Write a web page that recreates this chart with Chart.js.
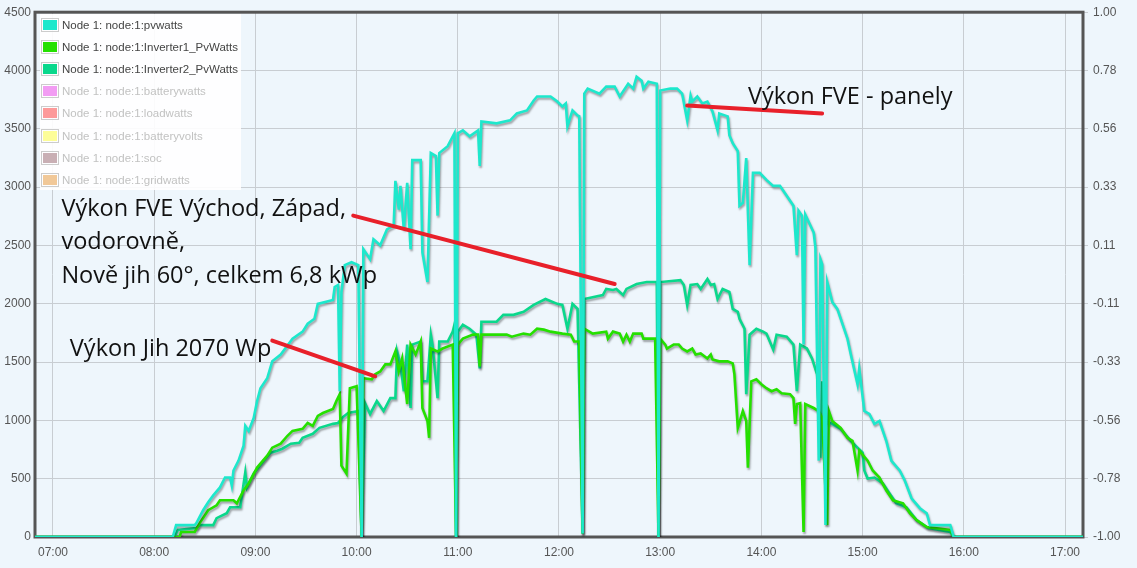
<!DOCTYPE html>
<html>
<head>
<meta charset="utf-8">
<script src="https://cdn.jsdelivr.net/npm/chart.js@4/dist/chart.umd.min.js"></script>
<style>
  body { margin: 0; background: #eef6fc; }
  #wrap { position: relative; width: 1137px; height: 568px; }
  #legend {
    position: absolute; left: 40px; top: 14px; width: 201px; height: 176px;
    background: rgba(255, 255, 255, 0.9);
    font: 11.5px "Liberation Sans", Arial, sans-serif;
  }
  .item { position: absolute; left: 1px; height: 14px; line-height: 14px; white-space: nowrap; }
  .sw {
    display: inline-block; width: 14px; height: 10px; padding: 1px;
    border: 1px solid #ccc; background-clip: content-box;
    vertical-align: top; margin-right: 3px;
  }
</style>
</head>
<body>
<div id="wrap">
  <canvas id="chart" width="1137" height="568"></canvas>
  <div id="legend"></div>
</div>
<script>
// pvwatts = sum of both inverters
const pvTimes = ["6:49","8:11","8:13","8:24","8:25","8:29","8:32","8:35","8:39","8:42","8:45","8:46","8:47","8:50","8:53","8:54","8:56","8:59",
  "9:01","9:03","9:07","9:10","9:15","9:22","9:28","9:31","9:35","9:37","9:46","9:47","9:49","9:50","9:51","9:53","9:57",
  "10:01","10:03","10:04","10:08","10:10","10:14","10:18","10:22","10:23","10:25","10:26","10:28","10:30","10:32","10:33","10:38","10:39","10:42","10:44","10:47","10:48","10:49","10:54","10:58","10:59",
  "11:00","11:03","11:07","11:12","11:13","11:14","11:23","11:31","11:35","11:41","11:45","11:47","11:55","11:59",
  "12:02","12:04","12:05","12:08","12:11","12:12","12:14","12:15","12:17","12:24","12:28","12:33","12:36","12:41","12:44","12:46","12:49","12:50","12:53","12:58","12:59",
  "13:00","13:06","13:10","13:13","13:16","13:18","13:19","13:22","13:25","13:28","13:31","13:34","13:35","13:40","13:41","13:43","13:46","13:47","13:49","13:51","13:53","13:55","13:59",
  "14:03","14:07","14:11","14:15","14:19","14:21","14:22","14:24","14:25","14:26","14:31","14:32","14:34","14:35","14:36","14:38","14:39","14:42","14:45","14:51","14:53","14:57","14:58",
  "15:01","15:04","15:07","15:10","15:14","15:17","15:22","15:25","15:29","15:34","15:38","15:40","15:52","15:54","17:11"];
const pvWatts = [0,0,102,102,119,230,298,357,425,510,510,442,570,655,783,953,910,1021,
  1165,1276,1361,1506,1565,1701,1761,1829,1871,1999,2033,2144,2161,1250,2101,2331,2356,
  2331,0,2467,2382,2552,2501,2637,2671,3054,2807,3011,2637,3037,2467,3232,3232,2441,2186,3292,3266,2756,3292,3351,3462,0,
  3462,3487,3436,3487,3181,3564,3547,3573,3632,3658,3743,3777,3777,3734,
  3692,3717,3521,3658,3615,3607,30,3802,3845,3802,3862,3862,3777,3887,3845,3947,3913,3845,3904,3887,0,
  3828,3845,3845,3802,3573,3785,3734,3777,3717,3734,3649,3487,3632,3607,3445,3377,3309,2841,2866,3249,2331,3122,3122,
  3062,3011,3011,2926,2841,2416,2798,2756,1650,2764,2611,2484,655,2382,2339,102,2186,2016,1956,1701,1565,1310,1446,
  1080,1055,970,995,825,655,570,485,332,247,204,102,102,0,0];

const inv1Times = ["6:49","8:15","8:16","8:24","8:27","8:32","8:37","8:39","8:47","8:49","8:53","8:56",
  "9:01","9:07","9:10","9:15","9:19","9:22","9:28","9:31","9:34","9:37","9:40","9:46","9:48","9:50","9:51","9:54","9:56",
  "10:00","10:03","10:04","10:09","10:11","10:14","10:17","10:20","10:23","10:25","10:27","10:30","10:32","10:35","10:38","10:39","10:42","10:43","10:44","10:48","10:51","10:57","10:59",
  "11:00","11:03","11:09","11:12","11:13","11:14","11:29","11:32","11:39","11:43","11:47","11:51","11:55",
  "12:02","12:07","12:09","12:12","12:14","12:15","12:20","12:28","12:29","12:32","12:36","12:38","12:40","12:42","12:44","12:49","12:50","12:57","12:59",
  "13:00","13:03","13:04","13:08","13:11","13:13","13:16","13:19","13:21","13:24","13:28","13:30","13:31","13:35","13:40","13:43","13:44","13:46","13:49","13:51","13:52","13:54","13:57",
  "14:00","14:03","14:06","14:09","14:12","14:17","14:19","14:20","14:21","14:23","14:25","14:26","14:31","14:34","14:36","14:39","14:40","14:42","14:47","14:51","14:54","14:57","14:58",
  "15:03","15:06","15:10","15:14","15:18","15:24","15:28","15:32","15:38","15:52","15:54","17:11"];
const inv1Watts = [0,0,43,43,119,230,272,315,315,289,400,459,
  595,697,766,800,868,910,927,978,953,1038,1063,1097,1165,1225,612,544,1276,
  1293,0,1361,1352,1395,1420,1480,1480,1591,1420,1531,1140,1650,1565,1676,1106,995,851,1616,1591,1616,1650,0,
  1650,1701,1735,1735,1463,1735,1735,1718,1744,1735,1786,1778,1761,
  1744,1735,1676,1676,30,1786,1744,1761,1701,1761,1744,1676,1735,1676,1744,1744,1701,1701,0,
  1701,1650,1616,1650,1650,1616,1591,1616,1565,1574,1531,1565,1523,1506,1506,1489,1395,936,1080,995,595,1335,1352,
  1310,1276,1250,1267,1233,1225,1191,970,1140,1148,43,1140,1106,1080,1021,102,1080,995,936,851,825,570,740,
  655,570,510,400,315,289,204,145,85,60,0,0];

const inv2Times = ["6:49","8:12","8:14","8:25","8:27","8:35","8:37","8:43","8:45","8:51","8:54","8:55","8:59",
  "9:05","9:09","9:13","9:16","9:21","9:26","9:28","9:34","9:38","9:46","9:49","9:52","9:55",
  "10:01","10:03","10:05","10:08","10:12","10:16","10:20","10:23","10:24","10:26","10:28","10:30","10:32","10:33","10:38","10:39","10:42","10:44","10:45","10:48","10:49","10:54","10:57","10:58","10:59",
  "11:00","11:03","11:07","11:11","11:13","11:14","11:23","11:27","11:33","11:39","11:45","11:52","11:59",
  "12:02","12:05","12:08","12:11","12:14","12:15","12:26","12:28","12:32","12:34","12:38","12:40","12:46","12:52","12:58","12:59",
  "13:00","13:12","13:14","13:16","13:18","13:22","13:24","13:28","13:30","13:32","13:34","13:37","13:41","13:43","13:46","13:47","13:50","13:51","13:53","13:57",
  "14:01","14:03","14:07","14:09","14:15","14:19","14:21","14:23","14:27","14:30","14:33","14:35","14:36","14:38","14:39","14:41","14:47","14:53","14:57",
  "15:00","15:01","15:03","15:07","15:12","15:16","15:20","15:26","15:32","15:39","15:52","15:54","17:11"];
const inv2Watts = [0,0,60,77,102,102,162,204,255,255,553,425,544,
  655,723,740,757,800,808,851,885,936,970,978,1030,1063,
  1080,0,1148,1055,1165,1080,1191,1191,1591,1480,1250,1650,1106,1650,1676,1335,1335,1735,1650,1191,1676,1676,1761,1820,0,
  1761,1820,1786,1735,1446,1846,1846,1905,1905,1931,1990,2041,1999,
  1990,1786,1999,1956,30,2041,2075,2127,2118,2127,2075,2127,2169,2186,2186,0,
  2186,2203,2161,1990,2161,2169,2127,2212,2161,2169,2041,2127,2101,1956,1931,1871,1786,1225,1735,1786,
  1761,1744,1608,1735,1718,1650,1250,1650,1616,1531,1395,680,1335,1080,970,978,927,825,766,
  723,570,502,510,459,374,289,255,145,77,43,0,0];

const seriesLabels = ["Node 1: node:1:pvwatts", "Node 1: node:1:Inverter1_PvWatts", "Node 1: node:1:Inverter2_PvWatts",
  "Node 1: node:1:batterywatts", "Node 1: node:1:loadwatts", "Node 1: node:1:batteryvolts", "Node 1: node:1:soc", "Node 1: node:1:gridwatts"];
const seriesColors = ["#1de8cc", "#25e000", "#0ad88c", "#f29cf3", "#fd9a9a", "#fdfd98", "#c9afb4", "#f1c898"];

const hourTicks = [7, 8, 9, 10, 11, 12, 13, 14, 15, 16, 17];
const xMin = 6 * 60 + 49.33, xMax = 17 * 60 + 10.67;

// annotations, in chart units (time, watts)
const noteLines = [["13:16", 3700, "14:36", 3632], ["9:58", 2756, "12:33", 2169], ["9:10", 1684, "10:11", 1378]];
const noteTexts = [
  { at: ["13:52", 3709], lines: ["Výkon FVE - panely"] },
  { at: ["7:05", 2756], lines: ["Výkon FVE Východ, Západ,", "vodorovně,", "Nově jih 60°, celkem 6,8 kWp"] },
  { at: ["7:10", 1548], lines: ["Výkon Jih 2070 Wp"] }
];

function toMin(t) {
  const p = t.split(":");
  return +p[0] * 60 + +p[1];
}
function pad(n) { return (n < 10 ? "0" : "") + n; }
function points(times, vals) {
  return times.map((t, i) => ({ x: toMin(t), y: vals[i] }));
}

const seriesData = [points(pvTimes, pvWatts), points(inv1Times, inv1Watts), points(inv2Times, inv2Watts)];

const datasets = seriesLabels.map((label, i) => ({
  label: label,
  data: seriesData[i] || [],
  hidden: i > 2,
  borderColor: seriesColors[i],
  backgroundColor: seriesColors[i],
  borderWidth: 2.6,
  pointRadius: 0,
  tension: 0,
  fill: false,
  yAxisID: "y"
}));

const shadowPlugin = {
  id: "shadow",
  beforeDatasetDraw(chart) {
    const c = chart.ctx;
    c.save();
    c.shadowColor = "rgba(0,0,0,0.35)";
    c.shadowBlur = 2;
    c.shadowOffsetX = 1;
    c.shadowOffsetY = 2;
  },
  afterDatasetDraw(chart) { chart.ctx.restore(); }
};

const framePlugin = {
  id: "frame",
  beforeDatasetsDraw(chart) {
    const a = chart.chartArea, c = chart.ctx;
    c.save();
    c.strokeStyle = "#555";
    c.lineWidth = 3;
    c.strokeRect(a.left, a.top, a.right - a.left, a.bottom - a.top);
    c.restore();
  }
};

const notesPlugin = {
  id: "notes",
  afterDatasetsDraw(chart) {
    const c = chart.ctx, x = chart.scales.x, y = chart.scales.y;
    c.save();
    c.strokeStyle = "#e8202a";
    c.lineWidth = 4;
    c.lineCap = "round";
    noteLines.forEach(l => {
      c.beginPath();
      c.moveTo(x.getPixelForValue(toMin(l[0])), y.getPixelForValue(l[1]));
      c.lineTo(x.getPixelForValue(toMin(l[2])), y.getPixelForValue(l[3]));
      c.stroke();
    });
    c.fillStyle = "#111";
    c.font = "23.5px 'Open Sans', Lato, sans-serif";
    c.textBaseline = "alphabetic";
    noteTexts.forEach(n => {
      const px = x.getPixelForValue(toMin(n.at[0]));
      const py = y.getPixelForValue(n.at[1]);
      n.lines.forEach((s, i) => c.fillText(s, px, py + i * 33.5));
    });
    c.restore();
  }
};

const tickFont = { family: "'Liberation Sans', Arial, sans-serif", size: 12 };

new Chart(document.getElementById("chart"), {
  type: "line",
  data: { datasets: datasets },
  options: {
    responsive: false,
    animation: false,
    layout: { padding: { top: 8, left: 0, right: 0, bottom: 0 } },
    plugins: { legend: { display: false }, tooltip: { enabled: false } },
    scales: {
      x: {
        type: "linear",
        min: xMin,
        max: xMax,
        afterBuildTicks: s => { s.ticks = hourTicks.map(h => ({ value: h * 60 })); },
        afterFit: s => { s.height = 31; },
        border: { display: false },
        grid: { color: "#c8cdd2", drawTicks: false },
        ticks: {
          font: tickFont, color: "#555", padding: 8, maxRotation: 0,
          callback: v => pad(Math.floor(v / 60)) + ":" + pad(v % 60)
        }
      },
      y: {
        position: "left",
        min: 0,
        max: 4500,
        afterFit: s => { s.width = 35; },
        border: { display: false },
        grid: { color: "#c8cdd2", drawTicks: false },
        ticks: { stepSize: 500, font: tickFont, color: "#555", padding: 4, callback: v => String(v) }
      },
      y2: {
        position: "right",
        min: -1,
        max: 1,
        afterBuildTicks: s => { s.ticks = hourTicks.slice(0, 10).map((h, i) => ({ value: -1 + i * 2 / 9 })); },
        afterFit: s => { s.width = 54; },
        border: { display: false },
        grid: { drawOnChartArea: false, drawTicks: true, tickLength: 5, color: "#c8cdd2" },
        ticks: { font: tickFont, color: "#555", padding: 5, callback: v => v.toFixed(2) }
      }
    }
  },
  plugins: [framePlugin, shadowPlugin, notesPlugin]
});

// legend box, drawn from the datasets
const legend = document.getElementById("legend");
datasets.forEach((d, i) => {
  const item = document.createElement("div");
  item.className = "item";
  item.style.top = (4 + i * 22.1) + "px";
  item.style.color = d.hidden ? "#c2c2c2" : "#444";
  item.innerHTML = '<span class="sw" style="background-color:' + d.borderColor + '"></span>' + d.label;
  legend.appendChild(item);
});
</script>
</body>
</html>
